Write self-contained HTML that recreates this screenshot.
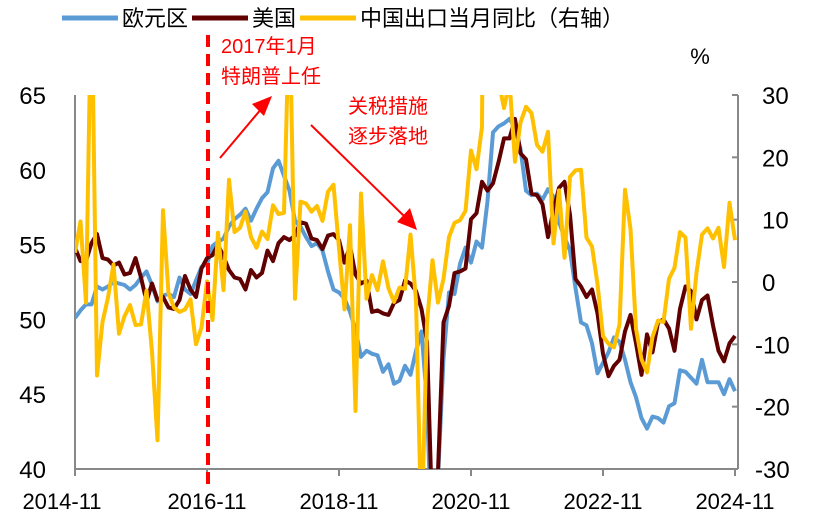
<!DOCTYPE html>
<html><head><meta charset="utf-8">
<style>
html,body{margin:0;padding:0;background:#fff;width:813px;height:527px;overflow:hidden;}
svg{display:block;font-family:"Liberation Sans","Noto Sans CJK SC",sans-serif;}
</style></head>
<body>
<svg id="chart" width="813" height="527" viewBox="0 0 813 527" xmlns="http://www.w3.org/2000/svg">
<defs><clipPath id="plotclip"><rect x="75" y="95" width="663" height="374"/></clipPath></defs>
<g>
  <line x1="62" y1="18" x2="118" y2="18" stroke="#5B9BD5" stroke-width="5"/>
  <text x="122" y="26" font-size="22" fill="#000">欧元区</text>
  <line x1="192" y1="18" x2="248" y2="18" stroke="#600000" stroke-width="5"/>
  <text x="252" y="26" font-size="22" fill="#000">美国</text>
  <line x1="300" y1="18" x2="356" y2="18" stroke="#FFC000" stroke-width="5"/>
  <text x="360" y="26" font-size="22" fill="#000">中国出口当月同比（右轴）</text>
</g>
<text x="700" y="64" font-size="22" text-anchor="middle" fill="#000">%</text>
<g id="axes"></g>
<g id="series" clip-path="url(#plotclip)"></g>
<g>
  <line x1="208" y1="35" x2="208" y2="485" stroke="#FF0000" stroke-width="4" stroke-dasharray="12,7"/>
  <text x="221" y="53" font-size="20" fill="#FF0000">2017年1月</text>
  <text x="221" y="83" font-size="20" fill="#FF0000">特朗普上任</text>
  <line x1="220" y1="158" x2="262" y2="108" stroke="#FF0000" stroke-width="2"/>
  <polygon points="272,96 252,104 264,116" fill="#FF0000"/>
  <text x="348" y="113" font-size="20" fill="#FF0000">关税措施</text>
  <text x="348" y="143" font-size="20" fill="#FF0000">逐步落地</text>
  <line x1="311" y1="125" x2="404" y2="216" stroke="#FF0000" stroke-width="2"/>
  <polygon points="417,230 397,222 410,208" fill="#FF0000"/>
</g>
</svg>
<script>
const startYear = 2014, startMonth = 11;
const xTickLabels = ["2014-11","2016-11","2018-11","2020-11","2022-11","2024-11"];
const leftTicks = [40,45,50,55,60,65];
const rightTicks = [-30,-20,-10,0,10,20,30];
const euroPMI = [50.1,50.6,
51.0,51.0,52.2,52.0,52.2,52.5,52.4,52.3,52.0,52.3,52.8,53.2,
52.3,51.2,51.6,51.7,51.5,52.8,52.0,51.7,52.6,53.5,53.7,54.9,
55.2,55.4,56.2,56.7,57.0,57.4,56.6,57.4,58.1,58.5,60.1,60.6,
59.6,58.6,56.6,56.2,55.5,54.9,55.1,54.6,53.2,52.0,51.8,51.4,
50.5,49.3,47.5,47.9,47.7,47.6,46.5,47.0,45.7,45.9,46.9,46.3,
47.9,49.2,44.5,33.4,39.4,47.4,51.8,51.7,53.7,54.8,53.8,55.2,
54.8,57.9,62.5,62.9,63.1,63.4,62.8,61.4,58.6,58.3,58.4,58.0,
58.7,58.2,56.5,55.5,54.6,52.1,49.8,49.6,48.4,46.4,47.1,47.8,
48.8,48.5,47.3,45.8,44.8,43.4,42.7,43.5,43.4,43.1,44.2,44.4,
46.6,46.5,46.1,45.7,47.3,45.8,45.8,45.8,45.0,46.0,45.2];
const usPMI = [54.8,53.9,
53.9,55.1,55.7,54.1,54.0,53.6,53.8,53.0,53.1,54.1,52.8,51.2,
52.4,51.3,51.5,50.8,50.7,51.3,52.9,52.0,51.5,53.4,54.1,54.3,
55.0,54.2,53.3,52.8,52.7,52.0,53.3,52.8,53.1,54.6,53.9,55.1,
55.5,55.3,55.6,56.5,56.4,55.4,55.3,54.7,55.6,55.7,55.3,53.8,
54.9,53.0,52.4,52.6,50.5,50.6,50.4,50.3,51.1,51.3,52.6,52.4,
51.9,50.7,48.5,36.1,39.8,49.8,50.9,53.1,53.2,53.4,56.7,57.1,
59.2,58.6,59.1,60.5,62.1,62.1,63.4,61.1,60.7,58.4,58.3,57.7,
55.5,57.3,58.8,59.2,57.0,52.7,52.2,51.5,52.0,50.4,47.7,46.2,
46.9,47.3,49.2,50.3,48.4,46.3,49.0,47.8,49.8,50.0,49.4,47.9,
50.7,52.2,51.9,50.0,51.3,51.6,49.6,47.9,47.2,48.4,48.9];
const chinaExportYoY = [4.7,9.7,
-3.3,48.3,-15.0,-6.4,-2.5,2.8,-8.3,-5.5,-3.7,-6.9,-6.8,-1.4,
-11.2,-25.4,11.5,-1.8,-4.1,-4.8,-4.4,-2.8,-10.0,-7.3,0.1,-6.1,
7.9,-1.3,16.4,8.0,8.7,11.3,7.2,5.5,8.1,6.9,12.3,10.9,
11.1,44.5,-2.7,12.9,12.6,11.3,12.2,9.8,14.5,15.6,5.4,-4.4,
9.1,-20.7,14.2,-2.7,1.1,-1.3,3.3,-1.0,-3.2,-0.9,-1.1,7.6,
-3.0,-40.6,-6.6,3.5,-3.3,0.5,7.2,9.5,9.9,11.4,21.1,18.1,
24.9,154.9,30.6,32.3,27.9,32.2,19.3,25.6,28.1,27.1,22.0,20.9,
24.1,6.2,14.7,3.9,16.9,17.9,18.0,7.1,5.7,-0.3,-8.7,-9.9,
-10.5,-6.8,14.8,8.5,-7.5,-12.4,-14.5,-8.8,-6.2,-6.4,0.5,2.3,
8.0,7.1,-7.5,1.5,7.6,8.6,7.0,8.7,2.4,12.7,6.7];

const NS = "http://www.w3.org/2000/svg";
const X0 = 75, XPM = 5.5, PLOT_TOP = 95, PLOT_BOT = 469, PLOT_R = 738;
function xScale(i){ return X0 + i * XPM; }
function yLeft(v){ return PLOT_BOT - (v - 40) / 25 * (PLOT_BOT - PLOT_TOP); }
function yRight(v){ return PLOT_BOT - (v + 30) / 60 * (PLOT_BOT - PLOT_TOP); }
function monthIndex(label){ const [y,m] = label.split("-").map(Number); return (y - startYear) * 12 + (m - startMonth); }
function mk(tag, attrs, parent){ const e = document.createElementNS(NS, tag); for (const k in attrs) e.setAttribute(k, attrs[k]); parent.appendChild(e); return e; }

const axes = document.getElementById("axes");
const series = document.getElementById("series");

let el = mk("line", {x1:X0, y1:PLOT_TOP, x2:X0, y2:PLOT_BOT, stroke:"#888", "stroke-width":2}, axes);


el = mk("line", {x1:X0, y1:PLOT_BOT, x2:PLOT_R, y2:PLOT_BOT, stroke:"#888", "stroke-width":2}, axes);


el = mk("line", {x1:PLOT_R, y1:PLOT_TOP, x2:PLOT_R, y2:PLOT_BOT, stroke:"#888", "stroke-width":2}, axes);



xTickLabels.forEach((lab, k) => {
  const x = xScale(monthIndex(lab));
  const t = mk("line", {x1:x, y1:PLOT_BOT, x2:x, y2:PLOT_BOT + 7, stroke:"#888", "stroke-width":2}, axes);
  
  
  const tx = mk("text", {x: k === 0 ? x - 13 : x, y: 509, "font-size": 22, "text-anchor":"middle", fill:"#000"}, axes);
  tx.textContent = lab;
  
  
});
leftTicks.forEach(v => {
  const tx = mk("text", {x: 46, y: yLeft(v) + 9, "font-size": 24, "text-anchor":"end", fill:"#000"}, axes);
  tx.textContent = v;
  
  
});
rightTicks.forEach(v => {
  const y = yRight(v);
  const t = mk("line", {x1:PLOT_R - 6, y1:y, x2:PLOT_R, y2:y, stroke:"#888", "stroke-width":2}, axes);
  
  
  const tx = mk("text", {x: v < 0 ? 755 : 762, y: y + 9, "font-size": 24, fill:"#000"}, axes);
  tx.textContent = v;
  
  
});

function drawLine(arr, yf, color, name){
  const pts = arr.map((v, i) => xScale(i).toFixed(1) + "," + yf(v).toFixed(1)).join(" ");
  const p = mk("polyline", {points: pts, fill:"none", stroke: color, "stroke-width": 4, "stroke-linejoin":"round"}, series);
  
  
}
drawLine(euroPMI, yLeft, "#5B9BD5", "euro-pmi-line");
drawLine(usPMI, yLeft, "#600000", "us-pmi-line");
drawLine(chinaExportYoY, yRight, "#FFC000", "china-export-yoy-line");
</script>
</body></html>
